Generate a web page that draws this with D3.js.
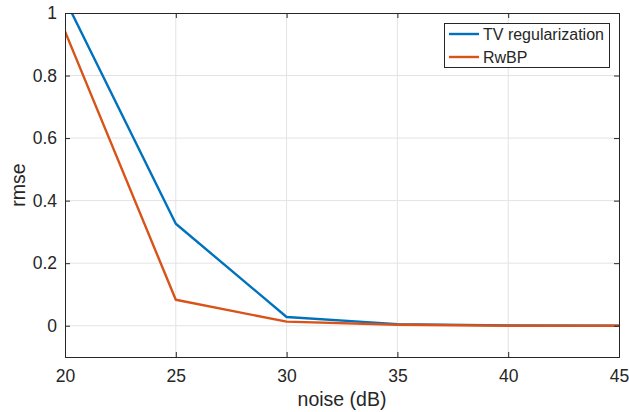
<html lang="en">
<head>
<style>
body { margin: 0; background: #fff; }
text { font-family: "Liberation Sans", Arial, sans-serif; fill: #262626; }
</style>
</head>
<body>
</body>
<script type='text/javascript' src='https://d3js.org/d3.v7.min.js'></script>
<script>
var width = 629, height = 412;
var margin = {left: 65, top: 13, right: 10, bottom: 55};

// data
const noise = [20, 25, 30, 35, 40, 45];
const tvReg = [1.044, 0.326, 0.028, 0.005, 0.001, 0.0];
const rwbp = [0.941, 0.083, 0.013, 0.003, 0.0, 0.0];
const xTicks = [20, 25, 30, 35, 40, 45];
const yTicks = [0, 0.2, 0.4, 0.6, 0.8, 1];
const seriesNames = ['TV regularization', 'RwBP'];

var colors = ['#0072BD', '#D95319'];

var svg = d3.select('body').append('svg').attr('width', width).attr('height', height);

var x = d3.scaleLinear().domain([20, 45]).range([margin.left, 619]);
var y = d3.scaleLinear().domain([-0.1, 1]).range([357, margin.top]);

// grid
svg.append('g').selectAll('line').data(xTicks.slice(1, -1)).join('line')
  .attr('x1', d => x(d)).attr('x2', d => x(d))
  .attr('y1', y(1)).attr('y2', y(-0.1))
  .attr('stroke', '#e3e3e3').attr('stroke-width', 1);
svg.append('g').selectAll('line').data(yTicks.slice(0, -1)).join('line')
  .attr('x1', x(20)).attr('x2', x(45))
  .attr('y1', d => y(d)).attr('y2', d => y(d))
  .attr('stroke', '#e3e3e3').attr('stroke-width', 1);

// clip
svg.append('clipPath').attr('id', 'clip').append('rect')
  .attr('x', x(20)).attr('y', y(1)).attr('width', x(45) - x(20)).attr('height', y(-0.1) - y(1));

var line = d3.line().x((d, i) => x(noise[i])).y(d => y(d));
var plot = svg.append('g').attr('clip-path', 'url(#clip)');
[tvReg, rwbp].forEach(function(s, k) {
  plot.append('path').datum(s).attr('d', line)
    .attr('fill', 'none').attr('stroke', colors[k]).attr('stroke-width', 2.4)
    .attr('stroke-linejoin', 'round');
});

// axes
var xAxis = d3.axisBottom(x).tickValues(xTicks).tickSize(-5).tickPadding(13).tickFormat(d3.format('d'));
var yAxis = d3.axisLeft(y).tickValues(yTicks).tickSize(-5).tickPadding(8).tickFormat(d => d === 0 || d === 1 ? d : d.toFixed(1));
var gx = svg.append('g').attr('transform', 'translate(0,' + y(-0.1) + ')').call(xAxis);
var gy = svg.append('g').attr('transform', 'translate(' + x(20) + ',0)').call(yAxis);
svg.append('g').attr('transform', 'translate(0,' + y(1) + ')')
  .call(d3.axisTop(x).tickValues(xTicks).tickSize(-5).tickFormat(''));
svg.append('g').attr('transform', 'translate(' + x(45) + ',0)')
  .call(d3.axisRight(y).tickValues(yTicks).tickSize(-5).tickFormat(''));
svg.selectAll('.domain').attr('stroke', '#262626');
svg.selectAll('.tick line').attr('stroke', '#262626');
svg.selectAll('.tick text').style('font-size', '17.5px').attr('fill', '#262626')
  .style('font-family', '"Liberation Sans", Arial, sans-serif');

// labels
svg.append('text').attr('x', (x(20) + x(45)) / 2).attr('y', 406)
  .attr('text-anchor', 'middle').style('font-size', '19.5px').text('noise (dB)');
svg.append('text').attr('transform', 'translate(25,185) rotate(-90)')
  .attr('text-anchor', 'middle').style('font-size', '19.5px').text('rmse');

// legend
var lg = svg.append('g');
lg.append('rect').attr('x', 444.5).attr('y', 23.5).attr('width', 165).attr('height', 44)
  .attr('fill', '#fff').attr('stroke', '#262626').attr('stroke-width', 1);
seriesNames.forEach(function(n, k) {
  var yy = 34 + k * 23;
  lg.append('line').attr('x1', 449).attr('x2', 479).attr('y1', yy).attr('y2', yy)
    .attr('stroke', colors[k]).attr('stroke-width', 2.4);
  lg.append('text').attr('x', 483).attr('y', yy + 5.5).style('font-size', '16px').text(n);
});
</script>
</html>
